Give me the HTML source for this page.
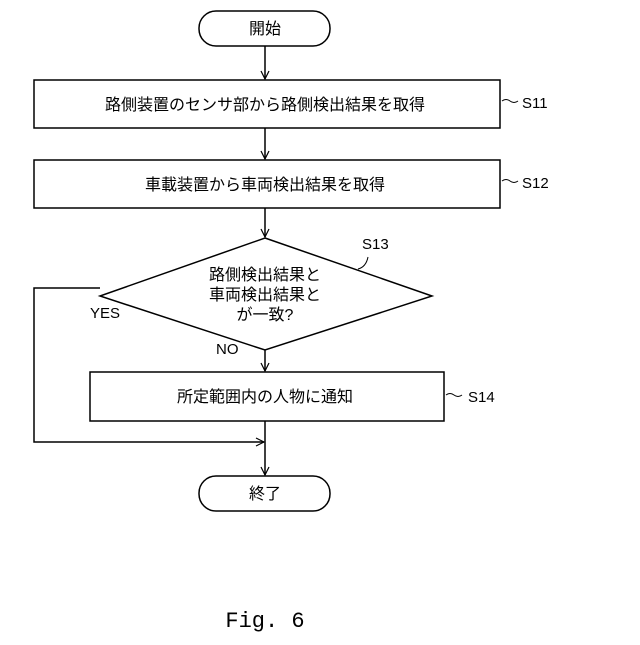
<!DOCTYPE html>
<html><head><meta charset="utf-8"><style>
html,body{margin:0;padding:0;background:#fff;}
svg text{font-family:"Liberation Sans","Noto Sans CJK JP",sans-serif;fill:#000;}
</style></head><body>
<svg width="640" height="640" viewBox="0 0 640 640" xmlns="http://www.w3.org/2000/svg">
<defs><marker id="a" markerWidth="10" markerHeight="10" refX="9" refY="5" orient="auto" markerUnits="userSpaceOnUse"><path d="M1,1 L9,5 L1,9" fill="none" stroke="#000" stroke-width="1.2"/></marker></defs>
<g fill="none" stroke="#000" stroke-width="1.5">
<rect x="199" y="11" width="131" height="35" rx="17"/>
<rect x="34" y="80" width="466" height="48"/>
<rect x="34" y="160" width="466" height="48"/>
<polygon points="265,238 432,296 265,350 100,296"/>
<rect x="90" y="372" width="354" height="49"/>
<rect x="199" y="476" width="131" height="35" rx="17"/>
<line x1="265" y1="46" x2="265" y2="79" marker-end="url(#a)"/>
<line x1="265" y1="128" x2="265" y2="159" marker-end="url(#a)"/>
<line x1="265" y1="208" x2="265" y2="237" marker-end="url(#a)"/>
<line x1="265" y1="350" x2="265" y2="371" marker-end="url(#a)"/>
<line x1="265" y1="421" x2="265" y2="475" marker-end="url(#a)"/>
<polyline points="100,288 34,288 34,442 264,442" marker-end="url(#a)"/>
<path d="M502,101 q4,-3 8,0 t8,0" stroke-width="1"/>
<path d="M502,181 q4,-3 8,0 t8,0" stroke-width="1"/>
<path d="M446,395 q4,-3 8,0 t8,0" stroke-width="1"/>
<path d="M358,269 q8,-2 10,-12" stroke-width="1"/>
</g>
<g font-size="16" text-anchor="middle">
<text x="265" y="34">開始</text>
<text x="265" y="110">路側装置のセンサ部から路側検出結果を取得</text>
<text x="265" y="190">車載装置から車両検出結果を取得</text>
<text x="265" y="280">路側検出結果と</text>
<text x="265" y="300">車両検出結果と</text>
<text x="265" y="320">が一致?</text>
<text x="265" y="402">所定範囲内の人物に通知</text>
<text x="265" y="499">終了</text>
</g>
<g font-size="15">
<text x="522" y="108">S11</text>
<text x="522" y="188">S12</text>
<text x="362" y="249">S13</text>
<text x="468" y="402">S14</text>
<text x="90" y="318">YES</text>
<text x="216" y="354">NO</text>
</g>
<text x="265" y="627" font-size="22" text-anchor="middle" style="font-family:'Liberation Mono',monospace">Fig. 6</text>
</svg>
</body></html>
